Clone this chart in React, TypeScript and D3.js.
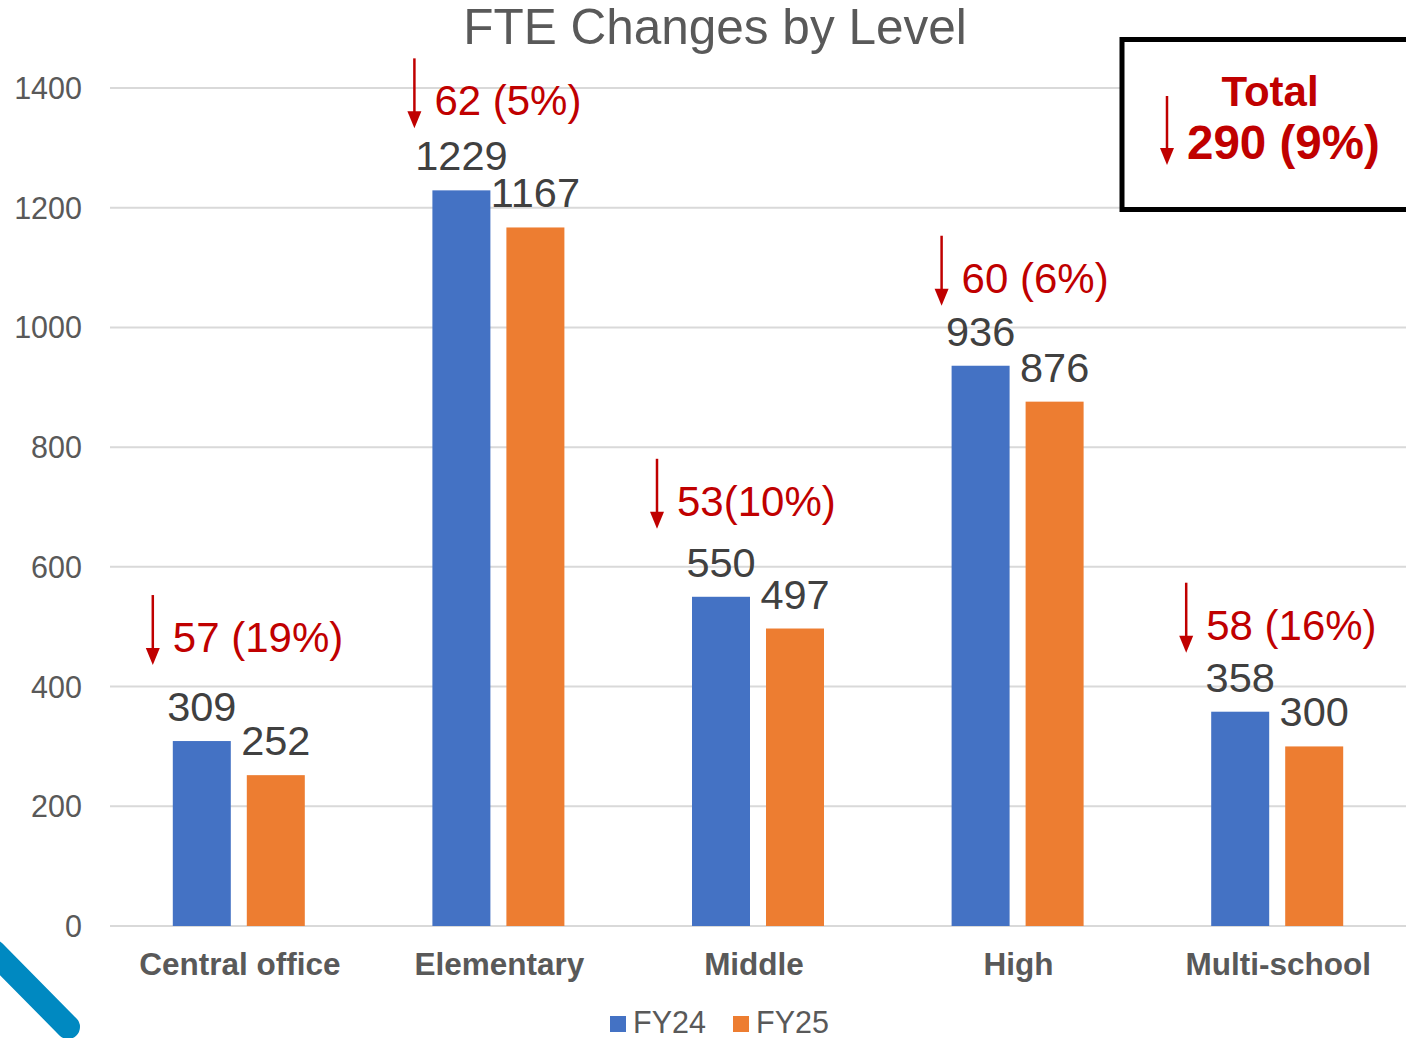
import React from "react";
import * as d3 from "d3";

const categories = ["Central office", "Elementary", "Middle", "High", "Multi-school"];
const fy24 = [309, 1229, 550, 936, 358];
const fy25 = [252, 1167, 497, 876, 300];
const changeLabels = ["57 (19%)", "62 (5%)", "53(10%)", "60 (6%)", "58 (16%)"];
const yTicks = [0, 200, 400, 600, 800, 1000, 1200, 1400];
const seriesNames = ["FY24", "FY25"];
const totalTitle = "Total";
const totalLabel = "290 (9%)";

// layout-only tweaks for the annotations
const annotDx = [-87, -85, -102, -77, -92];
const annotDy = [-89, -75, -81, -73, -72];
const catLabelDx = [0, 0, -5, 0, 0];

const W = 1406;
const H = 1038;
const BLUE = "#4472C4";
const ORANGE = "#ED7D31";
const RED = "#C00000";
const GREY = "#595959";
const DARK = "#404040";
const FONT = "Arial, 'Liberation Sans', sans-serif";

function Arrow({ x, y1, y2 }: { x: number; y1: number; y2: number }) {
  return (
    <g>
      <line x1={x} x2={x} y1={y1} y2={y2 - 14} stroke={RED} strokeWidth={2.5} />
      <path d={`M${x - 7},${y2 - 17} L${x + 7},${y2 - 17} L${x},${y2} Z`} fill={RED} />
    </g>
  );
}

export default function App() {
  const x = d3.scaleBand<string>().domain(categories).range([110, 1408]).paddingInner(0).paddingOuter(0);
  const y = d3.scaleLinear().domain([0, 1400]).range([926, 88]);
  const barW = 58;
  const gap = 16;

  return (
    <svg width={W} height={H} style={{ position: "absolute", left: 0, top: 0, background: "#fff" }} fontFamily={FONT}>
      <rect width={W} height={H} fill="#fff" />
      {/* decorative stroke */}
      <line x1={-6} y1={952} x2={68} y2={1027} stroke="#0089C1" strokeWidth={24} strokeLinecap="round" />

      {/* title */}
      <text x={715} y={44} textAnchor="middle" fontSize={49.5} fill={GREY}>FTE Changes by Level</text>

      {/* grid */}
      {yTicks.map((t) => (
        <g key={t}>
          <line x1={110} x2={W} y1={y(t)} y2={y(t)} stroke="#D9D9D9" strokeWidth={2} />
          <text x={82} y={y(t) + 11} textAnchor="end" fontSize={30.5} fill={GREY}>{t}</text>
        </g>
      ))}

      {/* bars */}
      {categories.map((c, i) => {
        const cx = (x(c) as number) + x.bandwidth() / 2;
        const bx = cx - gap / 2 - barW - 1;
        const ox = cx + gap / 2 - 1;
        const yb = y(fy24[i]);
        const yo = y(fy25[i]);
        const ay = yb + annotDy[i];
        const ax = cx + annotDx[i];
        return (
          <g key={c}>
            <rect x={bx} y={yb} width={barW} height={y(0) - yb} fill={BLUE} />
            <rect x={ox} y={yo} width={barW} height={y(0) - yo} fill={ORANGE} />
            <text x={bx + barW / 2} y={yb - 20} textAnchor="middle" fontSize={41.5} fill={DARK}>{fy24[i]}</text>
            <text x={ox + barW / 2} y={yo - 20} textAnchor="middle" fontSize={41.5} fill={DARK}>{fy25[i]}</text>
            <Arrow x={ax} y1={ay - 57} y2={ay + 13} />
            <text x={ax + 20} y={ay} fontSize={42} fill={RED}>{changeLabels[i]}</text>
            <text x={cx + catLabelDx[i]} y={975} textAnchor="middle" fontSize={31.5} fontWeight="bold" fill={GREY}>{c}</text>
          </g>
        );
      })}

      {/* total box */}
      <rect x={1122} y={39.5} width={300} height={170} fill="#fff" stroke="#000" strokeWidth={5} />
      <text x={1270} y={106} textAnchor="middle" fontSize={42} fontWeight="bold" fill={RED}>{totalTitle}</text>
      <text x={1187} y={159} fontSize={47.5} fontWeight="bold" fill={RED}>{totalLabel}</text>
      <Arrow x={1167} y1={96} y2={165} />

      {/* legend */}
      {seriesNames.map((s, i) => {
        const lx = 610 + i * 123;
        return (
          <g key={s}>
            <rect x={lx} y={1016} width={16} height={16} fill={i === 0 ? BLUE : ORANGE} />
            <text x={lx + 23} y={1033} fontSize={30.5} fill={GREY}>{s}</text>
          </g>
        );
      })}
    </svg>
  );
}
